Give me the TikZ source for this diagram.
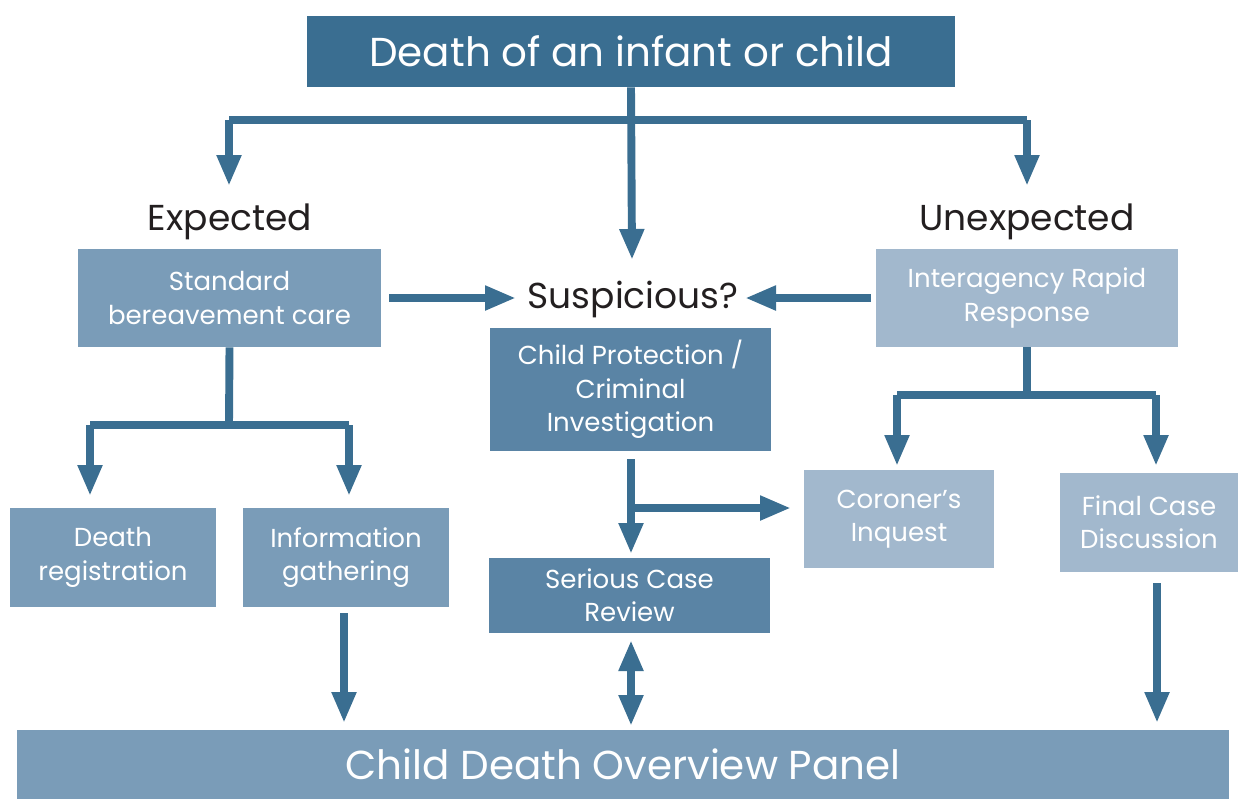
\documentclass[tikz,border=0pt]{standalone}
\usepackage{fontspec}
\setmainfont{Poppins}
\usetikzlibrary{arrows.meta,calc}
\definecolor{cdark}{HTML}{3A6E91}
\definecolor{cmid}{HTML}{5A84A5}
\definecolor{clight}{HTML}{7A9CB8}
\definecolor{cpale}{HTML}{A2B8CD}
\definecolor{ctext}{HTML}{231F20}
\tikzset{
  box/.style={fill=#1, text=white, align=center, inner sep=0pt, font=\fontsize{14.8}{19}\selectfont},
  big/.style={font=\fontsize{23}{27}\selectfont},
  lbl/.style={text=ctext, inner sep=0pt, font=\fontsize{20.5}{24}\selectfont},
  arr/.style={draw=cdark, line width=4.5pt, -{Triangle[length=0.62cm,width=0.46cm]}},
  dbl/.style={draw=cdark, line width=4.5pt, {Triangle[length=0.62cm,width=0.46cm]}-{Triangle[length=0.62cm,width=0.46cm]}},
  ln/.style={draw=cdark, line width=4.5pt},
}
\begin{document}
\begin{tikzpicture}[x=0.02cm,y=-0.02cm]
\useasboundingbox (0,0) rectangle (1239,799);
% boxes
\node[box=cdark, big, minimum width=12.96cm, minimum height=1.42cm] (top) at (631,51.5) {Death of an infant or child};
\node[box=clight, minimum width=6.06cm, minimum height=1.96cm] (std) at (229.5,298) {Standard\\bereavement care};
\node[box=cpale, minimum width=6.04cm, minimum height=1.96cm] (ira) at (1027,298) {Interagency Rapid\\Response};
\node[box=cmid, minimum width=5.62cm, minimum height=2.46cm] (cp) at (630.5,389.5) {Child Protection /\\Criminal\\Investigation};
\node[box=cmid, minimum width=5.62cm, minimum height=1.5cm] (scr) at (629.5,595.5) {Serious Case\\Review};
\node[box=cpale, minimum width=3.8cm, minimum height=1.96cm] (cor) at (899,519) {Coroner’s\\Inquest};
\node[box=cpale, minimum width=3.56cm, minimum height=1.98cm] (fcd) at (1149,522.5) {Final Case\\Discussion};
\node[box=clight, minimum width=4.12cm, minimum height=1.98cm] (dreg) at (113,557.5) {Death\\registration};
\node[box=clight, minimum width=4.12cm, minimum height=1.98cm] (info) at (346,557.5) {Information\\gathering};
\node[box=clight, big, minimum width=24.24cm, minimum height=1.38cm] (cdop) at (623,764.5) {Child Death Overview Panel};
% labels
\node[lbl] (exp) at (230,222) {Expected};
\node[lbl] (unexp) at (1027,222) {Unexpected};
\node[lbl] (susp) at (633,299) {Suspicious?};
% junction coordinates
\coordinate (j1) at (632,120);
\coordinate (tExp) at (229,186);
\coordinate (tUnexp) at (1027,186);
\coordinate (tSusp) at (632,260);
\coordinate (sL) at (389,298);
\coordinate (tL) at (516,298);
\coordinate (sR) at (871,298);
\coordinate (tR) at (745,298);
\coordinate (j2) at (229,425);
\coordinate (tDreg) at (90,496);
\coordinate (tInfo) at (349,496);
\coordinate (sInfo) at (344,613);
\coordinate (tCdop1) at (344,723);
\coordinate (sCp) at (631,459);
\coordinate (tScr) at (631,554);
\coordinate (j3) at (631,508);
\coordinate (tCor) at (791,508);
\coordinate (sScr) at (631,640);
\coordinate (tCdop2) at (631,726);
\coordinate (j4) at (1027,395);
\coordinate (tCor2) at (897,466);
\coordinate (tFcd) at (1156,466);
\coordinate (sFcd) at (1157,583);
\coordinate (tCdop3) at (1157,723);
% connectors
\draw[arr] (top.south) -- (tSusp);
\draw[ln] (j1 -| tExp) -- (j1 -| tUnexp);
\draw[arr] (j1 -| tExp) -- (tExp);
\draw[arr] (j1 -| tUnexp) -- (tUnexp);
\draw[arr] (sL) -- (tL);
\draw[arr] (sR) -- (tR);
\draw[ln] (std.south) -- (j2);
\draw[ln] (j2 -| tDreg) -- (j2 -| tInfo);
\draw[arr] (j2 -| tDreg) -- (tDreg);
\draw[arr] (j2 -| tInfo) -- (tInfo);
\draw[arr] (sInfo) -- (tCdop1);
\draw[arr] (sCp) -- (tScr);
\draw[arr] (j3) -- (tCor);
\draw[dbl] (sScr) -- (tCdop2);
\draw[ln] (ira.south) -- (j4);
\draw[ln] (j4 -| tCor2) -- (j4 -| tFcd);
\draw[arr] (j4 -| tCor2) -- (tCor2);
\draw[arr] (j4 -| tFcd) -- (tFcd);
\draw[arr] (sFcd) -- (tCdop3);
\end{tikzpicture}
\end{document}
